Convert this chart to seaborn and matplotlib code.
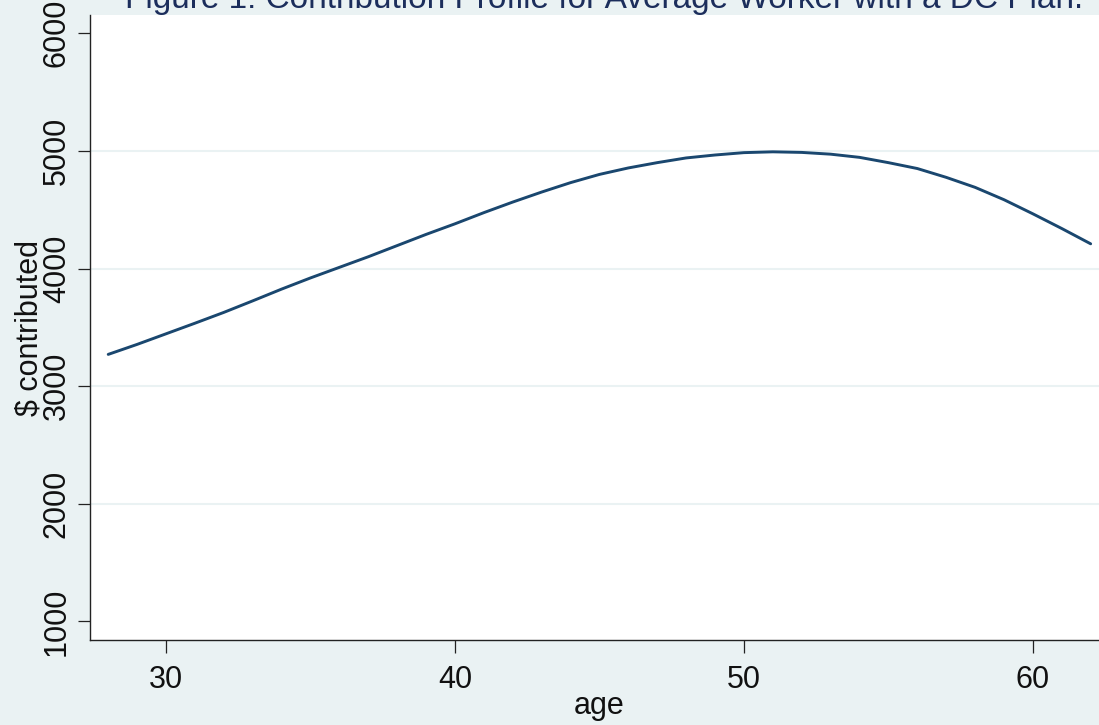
import pandas as pd
import numpy as np
import matplotlib
matplotlib.use('Agg')
import matplotlib.pyplot as plt
import seaborn as sns

# values
age = [28, 29, 30, 31, 32, 33, 34, 35, 36, 37, 38, 39, 40, 41, 42, 43, 44, 45,
       46, 47, 48, 49, 50, 51, 52, 53, 54, 55, 56, 57, 58, 59, 60, 61, 62]
contributed = [3270, 3355, 3445, 3535, 3627, 3725, 3825, 3920, 4010, 4100,
               4195, 4290, 4380, 4475, 4565, 4650, 4730, 4800, 4855, 4900,
               4940, 4965, 4985, 4992, 4987, 4972, 4945, 4900, 4850, 4775,
               4690, 4585, 4465, 4340, 4210]
y_ticks = [1000, 2000, 3000, 4000, 5000, 6000]
x_ticks = [30, 40, 50, 60]

title = "Figure 1: Contribution Profile for Average Worker with a DC Plan."

bg = '#EAF2F3'
navy = '#1A476F'

sns.set_theme(style='white')
plt.rcParams['font.family'] = ['Liberation Sans', 'DejaVu Sans']

df = pd.DataFrame({'age': age, 'contributed': contributed})

fig = plt.figure(figsize=(10.99, 7.25), dpi=100, facecolor=bg)
ax = fig.add_axes([0.0819, 0.1172, 0.9263, 0.8621])
ax.set_facecolor('white')

sns.lineplot(data=df, x='age', y='contributed', ax=ax, color=navy, linewidth=2.1)

ax.set_xlim(27.37, 62.6)
ax.set_ylim(842, 6155)
ax.set_xticks(x_ticks)
ax.set_yticks(y_ticks)
ax.set_yticklabels([str(v) for v in y_ticks], rotation=90, va='center')

# horizontal grid, Stata style (no lines at the outer ticks)
ax.grid(True, axis='y', color=bg, linewidth=1.5)
for gl, v in zip(ax.yaxis.get_gridlines(), y_ticks):
    if v in (y_ticks[0], y_ticks[-1]):
        gl.set_visible(False)

for s in ['top', 'right']:
    ax.spines[s].set_visible(False)
for s in ['left', 'bottom']:
    ax.spines[s].set_color('#222222')
    ax.spines[s].set_linewidth(1.0)

ax.tick_params(axis='both', direction='out', length=9, width=0.9,
               color='#222222', labelsize=22, labelcolor='#111111',
               left=True, bottom=True)
ax.tick_params(axis='x', pad=9)
ax.tick_params(axis='y', pad=4)

ax.set_xlabel('age', fontsize=22, color='#111111', labelpad=-3)
ax.set_ylabel('\\$ contributed', fontsize=22, color='#111111', labelpad=-2)

fig.text(0.55, 0.989, title, ha='center', va='baseline', fontsize=24, color='#1C2E5C')

fig.savefig('out.png', dpi=100, facecolor=bg)
